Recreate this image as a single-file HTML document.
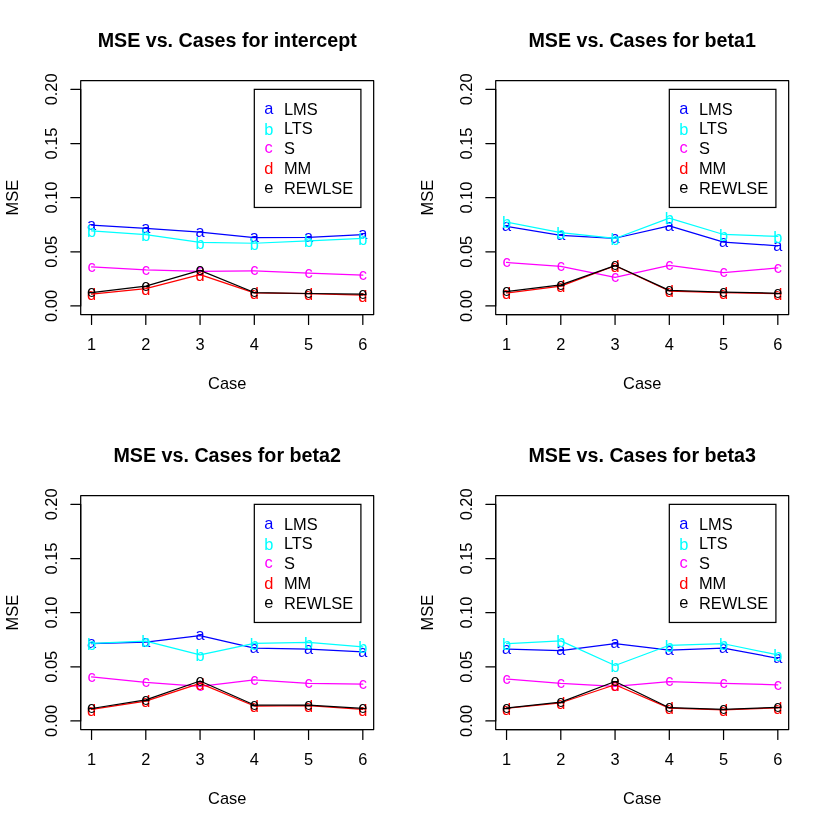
<!DOCTYPE html>
<html><head><meta charset="utf-8"><title>MSE vs. Cases</title>
<style>
html,body{margin:0;padding:0;background:#fff}
svg{display:block;will-change:transform}
text{font-family:"Liberation Sans",sans-serif;font-size:16.40px}
.p text,text.p{text-anchor:middle}
.t text{text-anchor:middle}
text.m{font-weight:bold;font-size:19.68px;text-anchor:middle}
text.l{text-anchor:start}
</style></head><body>
<svg width="830" height="830" viewBox="0 0 830 830">
<rect width="830" height="830" fill="#fff"/>
<g transform="translate(0.00,0.00)">
<g fill="#0000ff" class="p">
<text x="91.55" y="229.79">a</text>
<text x="145.80" y="233.04">a</text>
<text x="200.06" y="236.94">a</text>
<text x="254.31" y="242.35">a</text>
<text x="308.56" y="242.14">a</text>
<text x="362.82" y="239.43">a</text>
</g>
<polyline fill="none" stroke="#0000ff" stroke-width="1.24" stroke-linejoin="round" stroke-linecap="round" points="91.55,225.06 145.80,228.31 200.06,232.20 254.31,237.62 308.56,237.40 362.82,234.70"/>
<g fill="#00ffff" class="p">
<text x="91.55" y="237.06">b</text>
<text x="145.80" y="240.96">b</text>
<text x="200.06" y="248.65">b</text>
<text x="254.31" y="249.51">b</text>
<text x="308.56" y="247.13">b</text>
<text x="362.82" y="244.75">b</text>
</g>
<polyline fill="none" stroke="#00ffff" stroke-width="1.24" stroke-linejoin="round" stroke-linecap="round" points="91.55,230.80 145.80,234.70 200.06,242.38 254.31,243.25 308.56,240.87 362.82,238.49"/>
<g fill="#ff00ff" class="p">
<text x="91.55" y="271.70">c</text>
<text x="145.80" y="274.52">c</text>
<text x="200.06" y="276.03">c</text>
<text x="254.31" y="275.49">c</text>
<text x="308.56" y="277.76">c</text>
<text x="362.82" y="279.93">c</text>
</g>
<polyline fill="none" stroke="#ff00ff" stroke-width="1.24" stroke-linejoin="round" stroke-linecap="round" points="91.55,266.97 145.80,269.78 200.06,271.30 254.31,270.76 308.56,273.03 362.82,275.20"/>
<g fill="#ff0000" class="p">
<text x="91.55" y="300.41">d</text>
<text x="145.80" y="294.89">d</text>
<text x="200.06" y="280.92">d</text>
<text x="254.31" y="299.11">d</text>
<text x="308.56" y="299.98">d</text>
<text x="362.82" y="301.50">d</text>
</g>
<polyline fill="none" stroke="#ff0000" stroke-width="1.24" stroke-linejoin="round" stroke-linecap="round" points="91.55,294.15 145.80,288.63 200.06,274.66 254.31,292.85 308.56,293.72 362.82,295.23"/>
<g fill="#000000" class="p">
<text x="91.55" y="297.47">e</text>
<text x="145.80" y="290.87">e</text>
<text x="200.06" y="275.06">e</text>
<text x="254.31" y="297.26">e</text>
<text x="308.56" y="298.23">e</text>
<text x="362.82" y="298.77">e</text>
</g>
<polyline fill="none" stroke="#000000" stroke-width="1.24" stroke-linejoin="round" stroke-linecap="round" points="91.55,292.74 145.80,286.14 200.06,270.32 254.31,292.53 308.56,293.50 362.82,294.04"/>
<g stroke="#000" stroke-width="1.24" fill="none" stroke-linecap="round" stroke-linejoin="round">
<path d="M91.55 314.62H362.82M91.55 314.62v9.84M145.80 314.62v9.84M200.06 314.62v9.84M254.31 314.62v9.84M308.56 314.62v9.84M362.82 314.62v9.84M80.70 305.95V89.36M80.70 305.95h-9.84M80.70 251.81h-9.84M80.70 197.66h-9.84M80.70 143.51h-9.84M80.70 89.36h-9.84"/>
<rect x="80.70" y="80.70" width="292.97" height="233.92"/>
</g>
<g class="t">
<text x="91.55" y="350.05">1</text>
<text x="145.80" y="350.05">2</text>
<text x="200.06" y="350.05">3</text>
<text x="254.31" y="350.05">4</text>
<text x="308.56" y="350.05">5</text>
<text x="362.82" y="350.05">6</text>
<text x="227.18" y="389.41">Case</text>
<text transform="translate(57.08,305.95) rotate(-90)">0.00</text>
<text transform="translate(57.08,251.81) rotate(-90)">0.05</text>
<text transform="translate(57.08,197.66) rotate(-90)">0.10</text>
<text transform="translate(57.08,143.51) rotate(-90)">0.15</text>
<text transform="translate(57.08,89.36) rotate(-90)">0.20</text>
<text transform="translate(17.71,197.66) rotate(-90)">MSE</text>
</g>
<text class="m" x="227.18" y="47.44">MSE vs. Cases for intercept</text>
<rect x="254.31" y="89.36" width="106.60" height="118.10" fill="#fff" stroke="#000" stroke-width="1.24"/>
<text class="p" fill="#0000ff" x="268.71" y="113.78">a</text>
<text class="l" x="283.91" y="114.79">LMS</text>
<text class="p" fill="#00ffff" x="268.71" y="134.99">b</text>
<text class="l" x="283.91" y="134.47">LTS</text>
<text class="p" fill="#ff00ff" x="268.71" y="153.14">c</text>
<text class="l" x="283.91" y="154.15">S</text>
<text class="p" fill="#ff0000" x="268.71" y="174.36">d</text>
<text class="l" x="283.91" y="173.84">MM</text>
<text class="p" fill="#000000" x="268.71" y="192.51">e</text>
<text class="l" x="283.91" y="193.52">REWLSE</text>
</g>
<g transform="translate(415.00,0.00)">
<g fill="#0000ff" class="p">
<text x="91.55" y="231.09">a</text>
<text x="145.80" y="240.08">a</text>
<text x="200.06" y="243.00">a</text>
<text x="254.31" y="230.55">a</text>
<text x="308.56" y="246.79">a</text>
<text x="362.82" y="250.58">a</text>
</g>
<polyline fill="none" stroke="#0000ff" stroke-width="1.24" stroke-linejoin="round" stroke-linecap="round" points="91.55,226.36 145.80,235.35 200.06,238.27 254.31,225.82 308.56,242.06 362.82,245.85"/>
<g fill="#00ffff" class="p">
<text x="91.55" y="228.29">b</text>
<text x="145.80" y="238.79">b</text>
<text x="200.06" y="244.75">b</text>
<text x="254.31" y="224.39">b</text>
<text x="308.56" y="240.74">b</text>
<text x="362.82" y="242.69">b</text>
</g>
<polyline fill="none" stroke="#00ffff" stroke-width="1.24" stroke-linejoin="round" stroke-linecap="round" points="91.55,222.03 145.80,232.53 200.06,238.49 254.31,218.13 308.56,234.48 362.82,236.43"/>
<g fill="#ff00ff" class="p">
<text x="91.55" y="267.15">c</text>
<text x="145.80" y="271.05">c</text>
<text x="200.06" y="282.21">c</text>
<text x="254.31" y="270.08">c</text>
<text x="308.56" y="277.44">c</text>
<text x="362.82" y="272.57">c</text>
</g>
<polyline fill="none" stroke="#ff00ff" stroke-width="1.24" stroke-linejoin="round" stroke-linecap="round" points="91.55,262.42 145.80,266.32 200.06,277.47 254.31,265.34 308.56,272.71 362.82,267.83"/>
<g fill="#ff0000" class="p">
<text x="91.55" y="299.22">d</text>
<text x="145.80" y="292.40">d</text>
<text x="200.06" y="272.04">d</text>
<text x="254.31" y="297.27">d</text>
<text x="308.56" y="298.79">d</text>
<text x="362.82" y="299.98">d</text>
</g>
<polyline fill="none" stroke="#ff0000" stroke-width="1.24" stroke-linejoin="round" stroke-linecap="round" points="91.55,292.96 145.80,286.14 200.06,265.78 254.31,291.01 308.56,292.53 362.82,293.72"/>
<g fill="#000000" class="p">
<text x="91.55" y="296.28">e</text>
<text x="145.80" y="289.57">e</text>
<text x="200.06" y="270.29">e</text>
<text x="254.31" y="295.09">e</text>
<text x="308.56" y="296.82">e</text>
<text x="362.82" y="298.02">e</text>
</g>
<polyline fill="none" stroke="#000000" stroke-width="1.24" stroke-linejoin="round" stroke-linecap="round" points="91.55,291.55 145.80,284.84 200.06,265.56 254.31,290.36 308.56,292.09 362.82,293.28"/>
<g stroke="#000" stroke-width="1.24" fill="none" stroke-linecap="round" stroke-linejoin="round">
<path d="M91.55 314.62H362.82M91.55 314.62v9.84M145.80 314.62v9.84M200.06 314.62v9.84M254.31 314.62v9.84M308.56 314.62v9.84M362.82 314.62v9.84M80.70 305.95V89.36M80.70 305.95h-9.84M80.70 251.81h-9.84M80.70 197.66h-9.84M80.70 143.51h-9.84M80.70 89.36h-9.84"/>
<rect x="80.70" y="80.70" width="292.97" height="233.92"/>
</g>
<g class="t">
<text x="91.55" y="350.05">1</text>
<text x="145.80" y="350.05">2</text>
<text x="200.06" y="350.05">3</text>
<text x="254.31" y="350.05">4</text>
<text x="308.56" y="350.05">5</text>
<text x="362.82" y="350.05">6</text>
<text x="227.18" y="389.41">Case</text>
<text transform="translate(57.08,305.95) rotate(-90)">0.00</text>
<text transform="translate(57.08,251.81) rotate(-90)">0.05</text>
<text transform="translate(57.08,197.66) rotate(-90)">0.10</text>
<text transform="translate(57.08,143.51) rotate(-90)">0.15</text>
<text transform="translate(57.08,89.36) rotate(-90)">0.20</text>
<text transform="translate(17.71,197.66) rotate(-90)">MSE</text>
</g>
<text class="m" x="227.18" y="47.44">MSE vs. Cases for beta1</text>
<rect x="254.31" y="89.36" width="106.60" height="118.10" fill="#fff" stroke="#000" stroke-width="1.24"/>
<text class="p" fill="#0000ff" x="268.71" y="113.78">a</text>
<text class="l" x="283.91" y="114.79">LMS</text>
<text class="p" fill="#00ffff" x="268.71" y="134.99">b</text>
<text class="l" x="283.91" y="134.47">LTS</text>
<text class="p" fill="#ff00ff" x="268.71" y="153.14">c</text>
<text class="l" x="283.91" y="154.15">S</text>
<text class="p" fill="#ff0000" x="268.71" y="174.36">d</text>
<text class="l" x="283.91" y="173.84">MM</text>
<text class="p" fill="#000000" x="268.71" y="192.51">e</text>
<text class="l" x="283.91" y="193.52">REWLSE</text>
</g>
<g transform="translate(0.00,415.00)">
<g fill="#0000ff" class="p">
<text x="91.55" y="233.47">a</text>
<text x="145.80" y="231.74">a</text>
<text x="200.06" y="225.35">a</text>
<text x="254.31" y="237.80">a</text>
<text x="308.56" y="238.89">a</text>
<text x="362.82" y="241.70">a</text>
</g>
<polyline fill="none" stroke="#0000ff" stroke-width="1.24" stroke-linejoin="round" stroke-linecap="round" points="91.55,228.74 145.80,227.01 200.06,220.62 254.31,233.07 308.56,234.15 362.82,236.97"/>
<g fill="#00ffff" class="p">
<text x="91.55" y="234.57">b</text>
<text x="145.80" y="232.40">b</text>
<text x="200.06" y="246.16">b</text>
<text x="254.31" y="234.57">b</text>
<text x="308.56" y="233.59">b</text>
<text x="362.82" y="238.03">b</text>
</g>
<polyline fill="none" stroke="#00ffff" stroke-width="1.24" stroke-linejoin="round" stroke-linecap="round" points="91.55,228.31 145.80,226.14 200.06,239.89 254.31,228.31 308.56,227.33 362.82,231.77"/>
<g fill="#ff00ff" class="p">
<text x="91.55" y="266.72">c</text>
<text x="145.80" y="272.13">c</text>
<text x="200.06" y="276.03">c</text>
<text x="254.31" y="269.64">c</text>
<text x="308.56" y="273.11">c</text>
<text x="362.82" y="273.97">c</text>
</g>
<polyline fill="none" stroke="#ff00ff" stroke-width="1.24" stroke-linejoin="round" stroke-linecap="round" points="91.55,261.99 145.80,267.40 200.06,271.30 254.31,264.91 308.56,268.38 362.82,269.24"/>
<g fill="#ff0000" class="p">
<text x="91.55" y="300.63">d</text>
<text x="145.80" y="292.40">d</text>
<text x="200.06" y="274.64">d</text>
<text x="254.31" y="297.27">d</text>
<text x="308.56" y="296.84">d</text>
<text x="362.82" y="300.52">d</text>
</g>
<polyline fill="none" stroke="#ff0000" stroke-width="1.24" stroke-linejoin="round" stroke-linecap="round" points="91.55,294.37 145.80,286.14 200.06,268.38 254.31,291.01 308.56,290.58 362.82,294.26"/>
<g fill="#000000" class="p">
<text x="91.55" y="298.23">e</text>
<text x="145.80" y="289.57">e</text>
<text x="200.06" y="270.73">e</text>
<text x="254.31" y="294.77">e</text>
<text x="308.56" y="294.77">e</text>
<text x="362.82" y="298.02">e</text>
</g>
<polyline fill="none" stroke="#000000" stroke-width="1.24" stroke-linejoin="round" stroke-linecap="round" points="91.55,293.50 145.80,284.84 200.06,265.99 254.31,290.03 308.56,290.03 362.82,293.28"/>
<g stroke="#000" stroke-width="1.24" fill="none" stroke-linecap="round" stroke-linejoin="round">
<path d="M91.55 314.62H362.82M91.55 314.62v9.84M145.80 314.62v9.84M200.06 314.62v9.84M254.31 314.62v9.84M308.56 314.62v9.84M362.82 314.62v9.84M80.70 305.95V89.36M80.70 305.95h-9.84M80.70 251.81h-9.84M80.70 197.66h-9.84M80.70 143.51h-9.84M80.70 89.36h-9.84"/>
<rect x="80.70" y="80.70" width="292.97" height="233.92"/>
</g>
<g class="t">
<text x="91.55" y="350.05">1</text>
<text x="145.80" y="350.05">2</text>
<text x="200.06" y="350.05">3</text>
<text x="254.31" y="350.05">4</text>
<text x="308.56" y="350.05">5</text>
<text x="362.82" y="350.05">6</text>
<text x="227.18" y="389.41">Case</text>
<text transform="translate(57.08,305.95) rotate(-90)">0.00</text>
<text transform="translate(57.08,251.81) rotate(-90)">0.05</text>
<text transform="translate(57.08,197.66) rotate(-90)">0.10</text>
<text transform="translate(57.08,143.51) rotate(-90)">0.15</text>
<text transform="translate(57.08,89.36) rotate(-90)">0.20</text>
<text transform="translate(17.71,197.66) rotate(-90)">MSE</text>
</g>
<text class="m" x="227.18" y="47.44">MSE vs. Cases for beta2</text>
<rect x="254.31" y="89.36" width="106.60" height="118.10" fill="#fff" stroke="#000" stroke-width="1.24"/>
<text class="p" fill="#0000ff" x="268.71" y="113.78">a</text>
<text class="l" x="283.91" y="114.79">LMS</text>
<text class="p" fill="#00ffff" x="268.71" y="134.99">b</text>
<text class="l" x="283.91" y="134.47">LTS</text>
<text class="p" fill="#ff00ff" x="268.71" y="153.14">c</text>
<text class="l" x="283.91" y="154.15">S</text>
<text class="p" fill="#ff0000" x="268.71" y="174.36">d</text>
<text class="l" x="283.91" y="173.84">MM</text>
<text class="p" fill="#000000" x="268.71" y="192.51">e</text>
<text class="l" x="283.91" y="193.52">REWLSE</text>
</g>
<g transform="translate(415.00,415.00)">
<g fill="#0000ff" class="p">
<text x="91.55" y="238.89">a</text>
<text x="145.80" y="240.29">a</text>
<text x="200.06" y="233.47">a</text>
<text x="254.31" y="239.86">a</text>
<text x="308.56" y="237.80">a</text>
<text x="362.82" y="248.09">a</text>
</g>
<polyline fill="none" stroke="#0000ff" stroke-width="1.24" stroke-linejoin="round" stroke-linecap="round" points="91.55,234.15 145.80,235.56 200.06,228.74 254.31,235.13 308.56,233.07 362.82,243.36"/>
<g fill="#00ffff" class="p">
<text x="91.55" y="234.89">b</text>
<text x="145.80" y="232.19">b</text>
<text x="200.06" y="256.77">b</text>
<text x="254.31" y="236.52">b</text>
<text x="308.56" y="235.00">b</text>
<text x="362.82" y="246.16">b</text>
</g>
<polyline fill="none" stroke="#00ffff" stroke-width="1.24" stroke-linejoin="round" stroke-linecap="round" points="91.55,228.63 145.80,225.92 200.06,250.51 254.31,230.26 308.56,228.74 362.82,239.89"/>
<g fill="#ff00ff" class="p">
<text x="91.55" y="268.78">c</text>
<text x="145.80" y="273.11">c</text>
<text x="200.06" y="276.03">c</text>
<text x="254.31" y="271.27">c</text>
<text x="308.56" y="273.11">c</text>
<text x="362.82" y="274.52">c</text>
</g>
<polyline fill="none" stroke="#ff00ff" stroke-width="1.24" stroke-linejoin="round" stroke-linecap="round" points="91.55,264.04 145.80,268.38 200.06,271.30 254.31,266.53 308.56,268.38 362.82,269.78"/>
<g fill="#ff0000" class="p">
<text x="91.55" y="299.65">d</text>
<text x="145.80" y="294.02">d</text>
<text x="200.06" y="276.05">d</text>
<text x="254.31" y="299.33">d</text>
<text x="308.56" y="301.06">d</text>
<text x="362.82" y="299.22">d</text>
</g>
<polyline fill="none" stroke="#ff0000" stroke-width="1.24" stroke-linejoin="round" stroke-linecap="round" points="91.55,293.39 145.80,287.76 200.06,269.78 254.31,293.07 308.56,294.80 362.82,292.96"/>
<g fill="#000000" class="p">
<text x="91.55" y="297.69">e</text>
<text x="145.80" y="291.84">e</text>
<text x="200.06" y="271.27">e</text>
<text x="254.31" y="297.47">e</text>
<text x="308.56" y="299.10">e</text>
<text x="362.82" y="297.04">e</text>
</g>
<polyline fill="none" stroke="#000000" stroke-width="1.24" stroke-linejoin="round" stroke-linecap="round" points="91.55,292.96 145.80,287.11 200.06,266.53 254.31,292.74 308.56,294.37 362.82,292.31"/>
<g stroke="#000" stroke-width="1.24" fill="none" stroke-linecap="round" stroke-linejoin="round">
<path d="M91.55 314.62H362.82M91.55 314.62v9.84M145.80 314.62v9.84M200.06 314.62v9.84M254.31 314.62v9.84M308.56 314.62v9.84M362.82 314.62v9.84M80.70 305.95V89.36M80.70 305.95h-9.84M80.70 251.81h-9.84M80.70 197.66h-9.84M80.70 143.51h-9.84M80.70 89.36h-9.84"/>
<rect x="80.70" y="80.70" width="292.97" height="233.92"/>
</g>
<g class="t">
<text x="91.55" y="350.05">1</text>
<text x="145.80" y="350.05">2</text>
<text x="200.06" y="350.05">3</text>
<text x="254.31" y="350.05">4</text>
<text x="308.56" y="350.05">5</text>
<text x="362.82" y="350.05">6</text>
<text x="227.18" y="389.41">Case</text>
<text transform="translate(57.08,305.95) rotate(-90)">0.00</text>
<text transform="translate(57.08,251.81) rotate(-90)">0.05</text>
<text transform="translate(57.08,197.66) rotate(-90)">0.10</text>
<text transform="translate(57.08,143.51) rotate(-90)">0.15</text>
<text transform="translate(57.08,89.36) rotate(-90)">0.20</text>
<text transform="translate(17.71,197.66) rotate(-90)">MSE</text>
</g>
<text class="m" x="227.18" y="47.44">MSE vs. Cases for beta3</text>
<rect x="254.31" y="89.36" width="106.60" height="118.10" fill="#fff" stroke="#000" stroke-width="1.24"/>
<text class="p" fill="#0000ff" x="268.71" y="113.78">a</text>
<text class="l" x="283.91" y="114.79">LMS</text>
<text class="p" fill="#00ffff" x="268.71" y="134.99">b</text>
<text class="l" x="283.91" y="134.47">LTS</text>
<text class="p" fill="#ff00ff" x="268.71" y="153.14">c</text>
<text class="l" x="283.91" y="154.15">S</text>
<text class="p" fill="#ff0000" x="268.71" y="174.36">d</text>
<text class="l" x="283.91" y="173.84">MM</text>
<text class="p" fill="#000000" x="268.71" y="192.51">e</text>
<text class="l" x="283.91" y="193.52">REWLSE</text>
</g>
</svg>
</body></html>
